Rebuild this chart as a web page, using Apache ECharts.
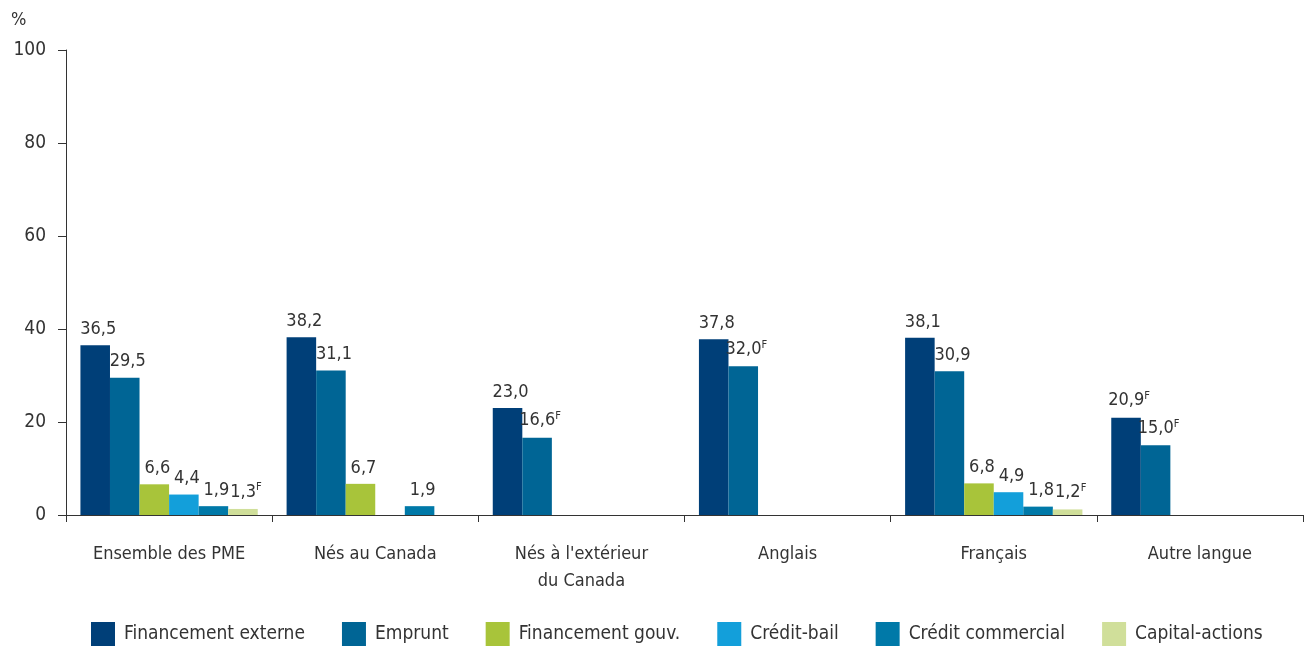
<!DOCTYPE html>
<html>
<head>
<meta charset="utf-8">
<script src="https://cdn.jsdelivr.net/npm/echarts@6/dist/echarts.min.js"></script>
<style>
  html, body { margin: 0; padding: 0; background: #fff; }
  #chart { width: 1305px; height: 646px; }
</style>
</head>
<body>
<div id="chart"></div>
<script>
// catégories
const categories = ['Ensemble des PME', 'Nés au Canada', "Nés à l'extérieur\ndu Canada", 'Anglais', 'Français', 'Autre langue']

// séries (null = pas de barre)
const seriesNames = ['Financement externe', 'Emprunt', 'Financement gouv.', 'Crédit-bail', 'Crédit commercial', 'Capital-actions']
const financementExterne = [36.5, 38.2, 23.0, 37.8, 38.1, 20.9]
const emprunt = [29.5, 31.1, 16.6, 32.0, 30.9, 15.0]
const financementGouv = [6.6, 6.7, null, null, 6.8, null]
const creditBail = [4.4, null, null, null, 4.9, null]
const creditCommercial = [1.9, 1.9, null, null, 1.8, null]
const capitalActions = [1.3, null, null, null, 1.2, null]

// note F (à utiliser avec prudence)
const flagsExterne = ['', '', '', '', '', 'F']
const flagsEmprunt = ['', '', 'F', 'F', '', 'F']
const flagsNone = ['', '', '', '', '', '']
const flagsCapital = ['F', '', '', '', 'F', '']

const yTicks = [0, 20, 40, 60, 80, 100]

const colors = ['#003f78', '#006595', '#a8c43a', '#139fda', '#0079a8', '#d0df9a']
const FONT = "'Liberation Sans Narrow', 'DejaVu Sans Condensed', sans-serif"

const values = [financementExterne, emprunt, financementGouv, creditBail, creditCommercial, capitalActions]
const flags = [flagsExterne, flagsEmprunt, flagsNone, flagsNone, flagsNone, flagsCapital]

const chart = echarts.init(document.getElementById('chart'))

const series = seriesNames.map((name, i) => ({
  name: name,
  type: 'bar',
  data: values[i],
  barGap: '0%',
  barCategoryGap: '14%',
  itemStyle: { color: colors[i] },
  label: {
    show: true,
    position: 'top',
    distance: 7,
    offset: [3, 0],
    fontFamily: FONT,
    fontSize: 18,
    color: '#333',
    formatter: (p) => {
      const v = p.value.toFixed(1).replace('.', ',')
      const f = flags[i][p.dataIndex]
      return f ? `{v|${v}}{sup|${f}}` : `{v|${v}}`
    },
    rich: {
      v: { fontFamily: FONT, fontSize: 18, color: '#333' },
      sup: { fontFamily: FONT, fontSize: 11, color: '#333', verticalAlign: 'top', padding: [0, 0, 9, 0] }
    }
  }
}))

const option = {
  animation: false,
  textStyle: { fontFamily: FONT },
  grid: { left: 66, right: 2, top: 50, bottom: 131, containLabel: false },
  graphic: [{
    type: 'text',
    left: 11,
    top: 11,
    style: { text: '%', fontFamily: FONT, fontSize: 18, fill: '#333' }
  }],
  legend: {
    top: 617,
    left: 86,
    padding: 5,
    itemWidth: 24,
    itemHeight: 24,
    itemGap: 37,
    icon: 'rect',
    textStyle: { fontFamily: FONT, fontSize: 19, color: '#333', padding: [0, 0, 0, 4] },
    data: seriesNames
  },
  xAxis: {
    type: 'category',
    data: categories,
    axisLine: { lineStyle: { color: '#333', width: 1 } },
    axisTick: { show: true, length: 7, lineStyle: { color: '#333' } },
    axisLabel: { fontFamily: FONT, fontSize: 18, color: '#333', margin: 26, lineHeight: 27 }
  },
  yAxis: {
    type: 'value',
    min: yTicks[0],
    max: yTicks[yTicks.length - 1],
    interval: 20,
    axisLine: { show: true, lineStyle: { color: '#333', width: 1 } },
    axisTick: { show: true, length: 8, lineStyle: { color: '#333' } },
    splitLine: { show: false },
    axisLabel: { fontFamily: FONT, fontSize: 19, color: '#333', margin: 20 }
  },
  series: series
}

chart.setOption(option)
</script>
</body>
</html>
